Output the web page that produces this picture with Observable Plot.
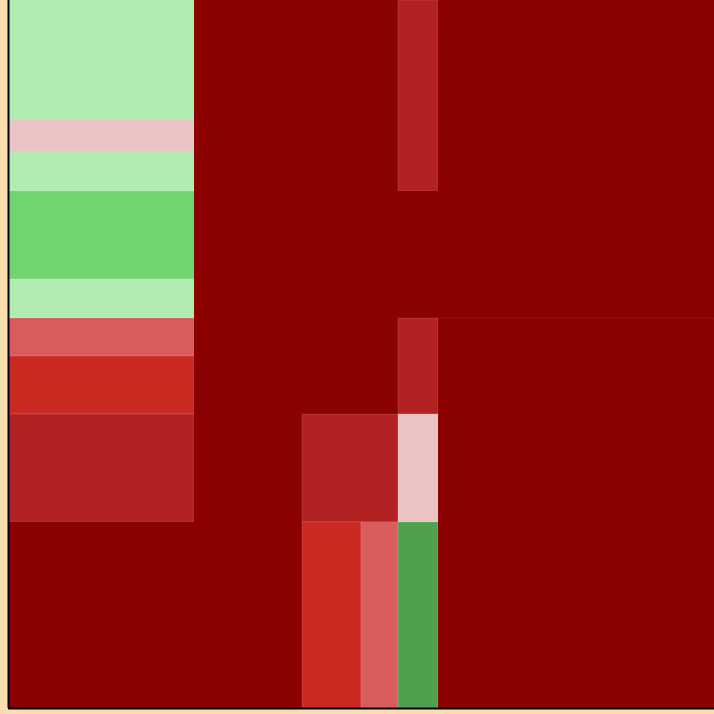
<!DOCTYPE html>
<html>
<head>
<meta charset="utf-8">
<script src="https://cdn.jsdelivr.net/npm/d3@7"></script>
<script src="https://cdn.jsdelivr.net/npm/@observablehq/plot@0.6"></script>
<style>
  html, body { margin: 0; padding: 0; background: #ffdead; }
  #chart svg { display: block; }
</style>
</head>
<body>
<div id="chart"></div>
<script>
// Mosaic cells: extents along x (0–706) and y (0–708, top = 0), and a category
const cellX1 = [0, 0, 0, 0, 0, 0, 0, 0, 0, 186, 186, 294, 294, 353, 390, 390, 390, 390, 390, 430, 430];
const cellX2 = [186, 186, 186, 186, 186, 186, 186, 186, 186, 390, 294, 390, 353, 390, 430, 430, 430, 430, 430, 706, 706];
const cellY1 = [0, 120, 152, 191, 279, 318, 356, 414, 522, 0, 414, 414, 522, 522, 0, 191, 318, 414, 522, 0, 318];
const cellY2 = [120, 152, 191, 279, 318, 356, 414, 522, 708, 414, 708, 522, 708, 708, 191, 318, 414, 522, 708, 318, 708];
const cellCat = ["lg", "pk", "lg", "g", "lg", "ir", "r", "fb", "dr", "dr", "dr", "fb", "r", "ir", "fb", "dr", "fb", "pk", "dg", "dr", "dr"];

const catDomain = ["lg", "g", "dg", "pk", "ir", "r", "fb", "dr"];
const catColors = ["#b0ebb0", "#70d470", "#50a050", "#ebc3c3", "#d95c5c", "#cb2a22", "#b22222", "#8b0000"];

const cells = cellCat.map((c, i) => ({
  x1: cellX1[i], x2: cellX2[i], y1: cellY1[i], y2: cellY2[i], cat: c
}));

const chart = Plot.plot({
  width: 714,
  height: 714,
  marginLeft: 8,
  marginRight: 0,
  marginTop: 0,
  marginBottom: 6,
  style: { background: "#ffdead" },
  x: { domain: [0, 706], axis: null },
  y: { domain: [0, 708], reverse: true, axis: null },
  color: { domain: catDomain, range: catColors },
  marks: [
    Plot.rect(cells, {
      x1: "x1", x2: "x2", y1: "y1", y2: "y2", fill: "cat",
      stroke: "white", strokeWidth: 1,
      strokeOpacity: (d) => d.cat === "dr" ? (d.y1 === 318 && d.x1 === 430 ? 0.06 : 0) : 0.12
    }),
    Plot.ruleX([0], { stroke: "black", strokeWidth: 2 }),
    Plot.ruleY([708], { stroke: "black", strokeWidth: 2 })
  ]
});
document.getElementById("chart").appendChild(chart);
</script>
</body>
</html>
